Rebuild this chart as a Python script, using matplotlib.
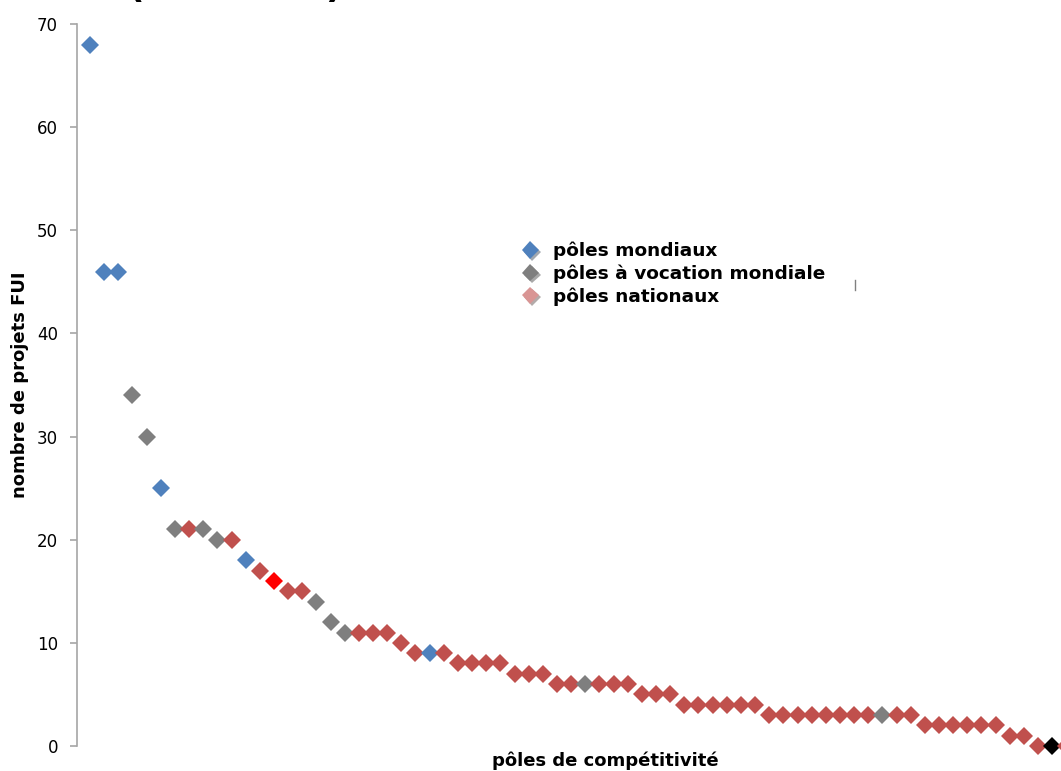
import matplotlib.pyplot as plt
import matplotlib.patheffects as pe
from matplotlib.lines import Line2D
import numpy as np

# number of FUI projects per competitiveness cluster, sorted descending
projets = [68, 46, 46, 34, 30, 25, 21, 21, 21, 20, 20, 18, 17, 16, 15, 15, 14, 12,
           11, 11, 11, 11, 10, 9, 9, 9, 8, 8, 8, 8, 7, 7, 7, 6, 6, 6, 6, 6, 6,
           5, 5, 5, 4, 4, 4, 4, 4, 4, 3, 3, 3, 3, 3, 3, 3, 3, 3, 3, 3,
           2, 2, 2, 2, 2, 2, 1, 1, 0, 0, 0]

# m = mondial, v = vocation mondiale, n = national, h = highlighted, k = black
categories = list("mmmvvmvnvvnmnhnnvvvnnnnnmnnnnnnnnnnvnnnnnnnnnnnnnnnnnnnnvnnnnnnnnnnnkn")

colors = {"m": "#4F81BD", "v": "#7F7F7F", "n": "#C0504D", "h": "#FF0000", "k": "#000000"}

legend_labels = ["pôles mondiaux", "pôles à vocation mondiale", "pôles nationaux"]
legend_colors = ["#4F81BD", "#7F7F7F", "#D99594"]

y_ticks = [0, 10, 20, 30, 40, 50, 60, 70]


def main():
    plt.rcParams["font.family"] = ["DejaVu Sans"]
    fig = plt.figure(figsize=(10.61, 7.71), dpi=100)
    ax = fig.add_axes([77 / 1061, 1 - 746 / 771, 1 - 77 / 1061, (746 - 24) / 771])

    x = np.arange(1, len(projets) + 1)
    for xi, yi, c in zip(x, projets, categories):
        ax.plot(xi, yi, marker="D", markersize=8.7, color=colors[c], linestyle="none",
                markeredgewidth=0, clip_on=False)

    ax.set_xlim(0.081, 69.62)
    ax.set_ylim(0, 70)
    ax.set_yticks(y_ticks)
    ax.set_xticks([])
    for side in ["top", "right", "bottom"]:
        ax.spines[side].set_visible(False)
    ax.spines["left"].set_color("#A6A6A6")
    ax.spines["left"].set_linewidth(1.2)
    ax.tick_params(axis="y", direction="out", length=5, width=1.2, color="#A6A6A6",
                   pad=8.6, labelsize=12, labelcolor="#000000")

    fig.text(20 / 1061, 1 - 385 / 771, "nombre de projets FUI", rotation=90,
             fontsize=13, fontweight="bold", ha="center", va="center")
    fig.text(605 / 1061, 1 - 761 / 771, "pôles de compétitivité",
             fontsize=13, fontweight="bold", ha="center", va="center")

    # title, mostly cut off at the top of the picture
    fig.text(128 / 1061, 1 + 3 / 771, "(", fontsize=26, fontweight="bold", ha="left", va="baseline")
    fig.text(342 / 1061, 1 + 3 / 771, ")", fontsize=26, fontweight="bold", ha="right", va="baseline")

    handles = []
    for lab, col in zip(legend_labels, legend_colors):
        h = Line2D([], [], marker="D", markersize=8.7, color=col, linestyle="none",
                   markeredgewidth=0, label=lab,
                   path_effects=[pe.SimplePatchShadow(offset=(1.5, -1.5), alpha=0.4),
                                 pe.Normal()])
        handles.append(h)
    fig.legend(handles=handles, loc="upper left", bbox_to_anchor=(521 / 1061, 1 - 242 / 771),
               frameon=False, prop={"weight": "bold", "size": 13.3},
               handlelength=1.0, handletextpad=0.75, labelspacing=0.22, borderaxespad=0,
               borderpad=0)

    # small stray mark right of the legend
    fig.add_artist(Line2D([855 / 1061, 855 / 1061], [1 - 280 / 771, 1 - 290 / 771],
                          color="#808080", linewidth=1))

    fig.savefig("out.png", dpi=100)


if __name__ == "__main__":
    main()
